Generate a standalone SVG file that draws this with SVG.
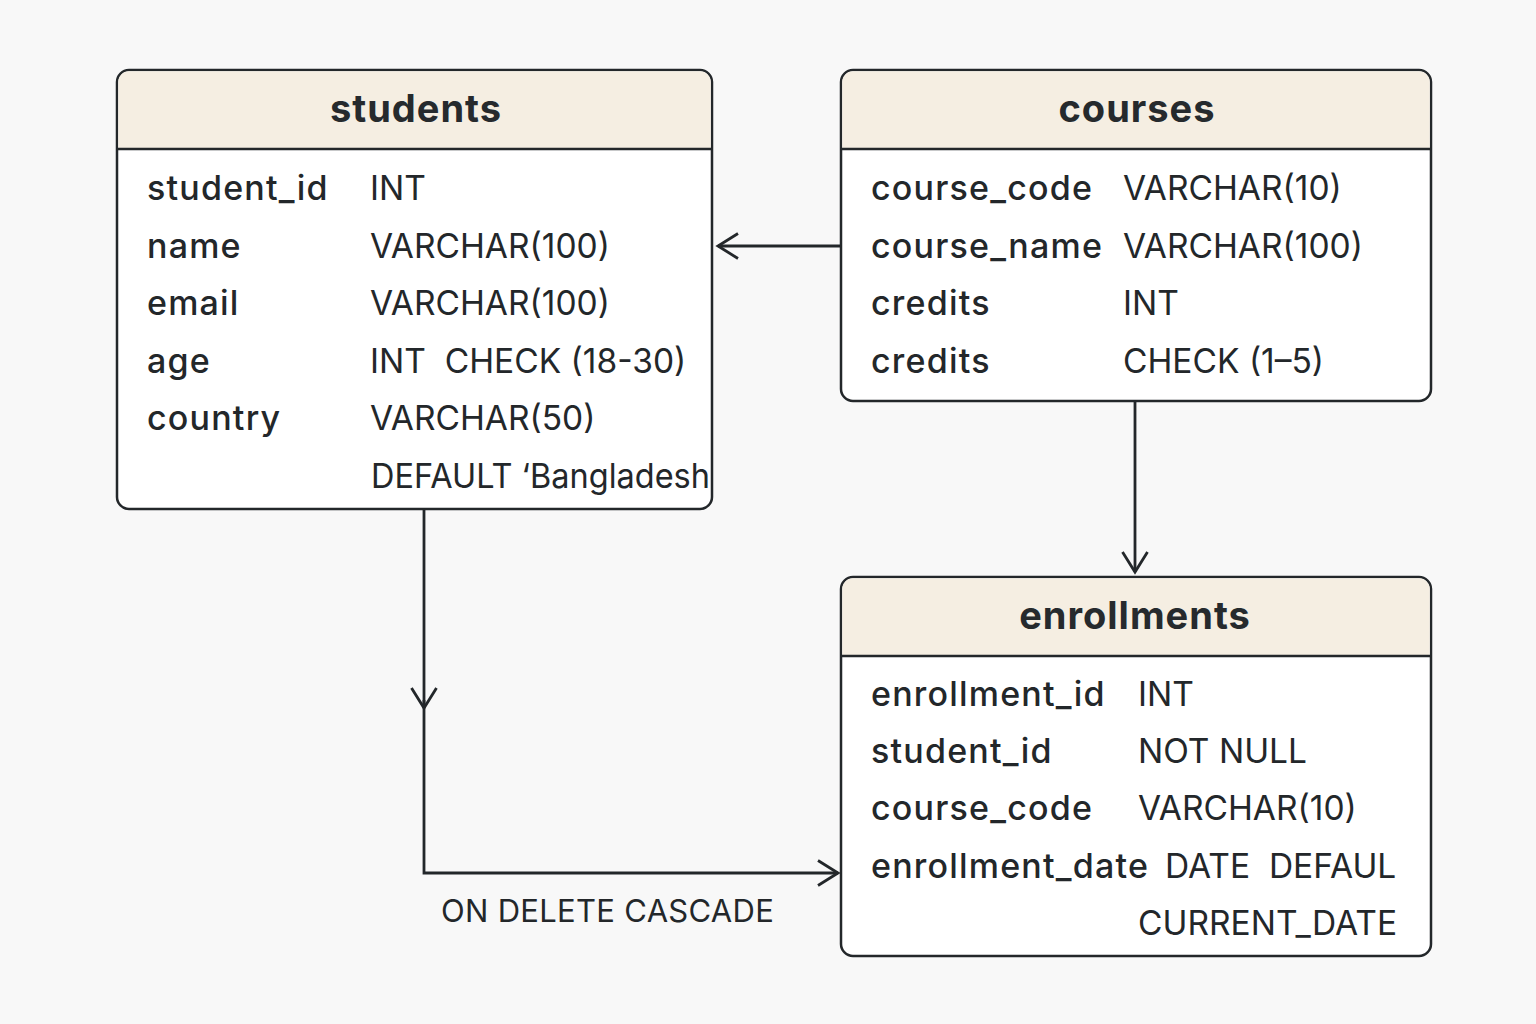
<svg xmlns="http://www.w3.org/2000/svg" width="1536" height="1024" viewBox="0 0 1536 1024">
<defs>
<style>
.box{fill:#ffffff;stroke:#23272a;stroke-width:2.5}
.hdr{fill:#f5eee2}
.sep{stroke:#23272a;stroke-width:2.5}
.title{font-family:Inter,"Noto Sans",sans-serif;font-weight:700;font-size:38px;letter-spacing:1px;fill:#262a2d;text-anchor:middle}
.col{font-family:Inter,"Noto Sans",sans-serif;font-weight:500;font-size:34px;letter-spacing:1.2px;fill:#23272a}
.typ{font-family:Inter,"Noto Sans",sans-serif;font-weight:400;font-size:33.5px;fill:#23272a}
.lbl{font-family:Inter,"Noto Sans",sans-serif;font-weight:400;font-size:31px;letter-spacing:0.3px;fill:#23272a}
.conn{fill:none;stroke:#23272a;stroke-width:2.8}
</style>
<marker id="chev" viewBox="0 0 26 28" refX="23" refY="14" markerWidth="26" markerHeight="28" markerUnits="userSpaceOnUse" orient="auto">
<path d="M3,1.5 L23,14 L3,26.5" fill="none" stroke="#23272a" stroke-width="2.8"/>
</marker>
</defs>
<rect width="1536" height="1024" fill="#f8f8f8"/>

<g id="connectors">
<path class="conn" d="M841,246 L718,246" marker-end="url(#chev)"/>
<path class="conn" d="M1135,401 L1135,572" marker-end="url(#chev)"/>
<path class="conn" d="M424,509 L424,708" marker-end="url(#chev)"/>
<path class="conn" d="M424,700 L424,873 L838,873" marker-end="url(#chev)"/>
<text class="lbl" x="441" y="922">ON DELETE CASCADE</text>
</g>

<g id="students">
<rect class="box" x="117" y="70" width="595" height="439" rx="12"/>
<path class="hdr" d="M129,71.25 H700 A10.75,10.75 0 0 1 710.75,82 V148 H118.25 V82 A10.75,10.75 0 0 1 129,71.25 Z"/>
<line class="sep" x1="117" y1="149" x2="712" y2="149"/>
<text class="title" x="416" y="122">students</text>
<text class="col" x="147" y="200">student_id</text>
<text class="col" x="147" y="258">name</text>
<text class="col" x="147" y="315">email</text>
<text class="col" x="147" y="373">age</text>
<text class="col" x="147" y="430">country</text>
<text class="typ" x="370" y="200">INT</text>
<text class="typ" x="370" y="258">VARCHAR(100)</text>
<text class="typ" x="370" y="315">VARCHAR(100)</text>
<text class="typ" x="370" y="373" xml:space="preserve">INT  CHECK (18-30)</text>
<text class="typ" x="370" y="430">VARCHAR(50)</text>
<text class="typ" x="371" y="488" textLength="339" lengthAdjust="spacingAndGlyphs">DEFAULT ‘Bangladesh</text>
</g>

<g id="courses">
<rect class="box" x="841" y="70" width="590" height="331" rx="12"/>
<path class="hdr" d="M853,71.25 H1419 A10.75,10.75 0 0 1 1429.75,82 V148 H842.25 V82 A10.75,10.75 0 0 1 853,71.25 Z"/>
<line class="sep" x1="841" y1="149" x2="1431" y2="149"/>
<text class="title" x="1137" y="122">courses</text>
<text class="col" x="871" y="200">course_code</text>
<text class="col" x="871" y="258">course_name</text>
<text class="col" x="871" y="315">credits</text>
<text class="col" x="871" y="373">credits</text>
<text class="typ" x="1123" y="200">VARCHAR(10)</text>
<text class="typ" x="1123" y="258">VARCHAR(100)</text>
<text class="typ" x="1123" y="315">INT</text>
<text class="typ" x="1123" y="373">CHECK (1–5)</text>
</g>

<g id="enrollments">
<rect class="box" x="841" y="577" width="590" height="379" rx="12"/>
<path class="hdr" d="M853,578.25 H1419 A10.75,10.75 0 0 1 1429.75,589 V655 H842.25 V589 A10.75,10.75 0 0 1 853,578.25 Z"/>
<line class="sep" x1="841" y1="656" x2="1431" y2="656"/>
<text class="title" x="1135" y="629">enrollments</text>
<text class="col" x="871" y="706">enrollment_id</text>
<text class="col" x="871" y="763">student_id</text>
<text class="col" x="871" y="820">course_code</text>
<text class="col" x="871" y="878">enrollment_date</text>
<text class="typ" x="1138" y="706">INT</text>
<text class="typ" x="1138" y="763">NOT NULL</text>
<text class="typ" x="1138" y="820">VARCHAR(10)</text>
<text class="typ" x="1165" y="878" xml:space="preserve">DATE  DEFAUL</text>
<text class="typ" x="1138" y="935">CURRENT_DATE</text>
</g>
</svg>
